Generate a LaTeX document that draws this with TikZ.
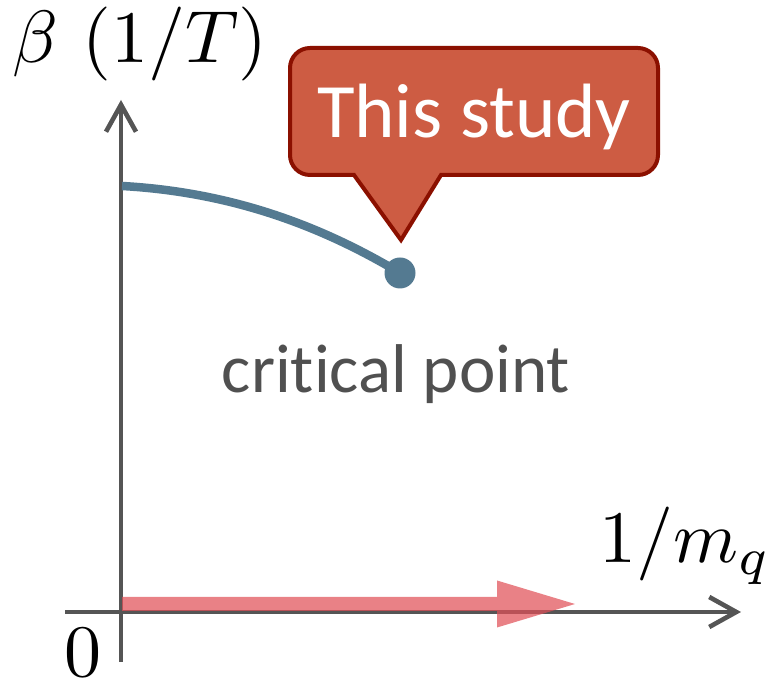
\documentclass[tikz,border=0pt]{standalone}
\usepackage{fontspec}
\newfontfamily\carl[Ligatures={NoCommon,NoRare}]{Carlito}
\usetikzlibrary{arrows.meta}
\definecolor{axisgray}{RGB}{85,85,85}
\definecolor{curveblue}{RGB}{84,122,145}
\definecolor{callfill}{RGB}{205,92,67}
\definecolor{calldraw}{RGB}{139,16,0}
\definecolor{arrred}{RGB}{224,80,88}
\definecolor{textgray}{RGB}{80,80,80}
\tikzset{
  axisline/.style={draw=axisgray, line width=4.6pt, -{Straight Barb[length=27pt,width=30pt,line width=4.6pt]}},
  mathlabel/.style={inner sep=0pt, anchor=base, font=\fontsize{10}{12}\selectfont, scale=7.4, transform shape},
  sanslabel/.style={inner sep=0pt, anchor=base},
}
\begin{document}
\begin{tikzpicture}[x=1pt,y=1pt]
\useasboundingbox (0,0) rectangle (779,684);
% axes
\coordinate (ybot) at (121,22);
\coordinate (ytop) at (121,584);
\coordinate (xleft) at (65,72);
\coordinate (xright) at (741,72);
\draw[axisline] (ybot) -- (ytop);
\draw[axisline] (xleft) -- (xright);
% red arrow
\fill[arrred, opacity=0.72] (122,73) -- (497,73) -- (497,56.5) -- (575,80) -- (497,103.5) -- (497,87) -- (122,87) -- cycle;
% curve
\coordinate (cstart) at (122,498);
\node[circle, fill=curveblue, minimum size=31pt, inner sep=0pt] (dot) at (400,411) {};
\draw[curveblue, line width=8.5pt] (cstart) .. controls (230,492) and (320,459) .. (dot.center);
% callout
\filldraw[fill=callfill, draw=calldraw, line width=4pt, line join=miter]
  (310,636) -- (638,636) arc[start angle=90,end angle=0,radius=20] -- (658,529)
  arc[start angle=0,end angle=-90,radius=20] -- (441,509) -- (401,444) -- (354,509) -- (310,509)
  arc[start angle=270,end angle=180,radius=20] -- (290,616)
  arc[start angle=180,end angle=90,radius=20] -- cycle;
\node[sanslabel, text=white, font=\carl\fontsize{77}{80}\selectfont] (study) at (474,546) {This study};
% labels
\node[sanslabel, text=textgray, font=\carl\fontsize{69}{80}\selectfont] (cp) at (396,291) {critical point};
\node[mathlabel] (ylab) at (140,621) {$\beta\ (1/T)$};
\node[mathlabel] (xlab) at (685,121) {$1/m_q$};
\node[mathlabel] (zero) at (83,7) {$0$};
\end{tikzpicture}
\end{document}
